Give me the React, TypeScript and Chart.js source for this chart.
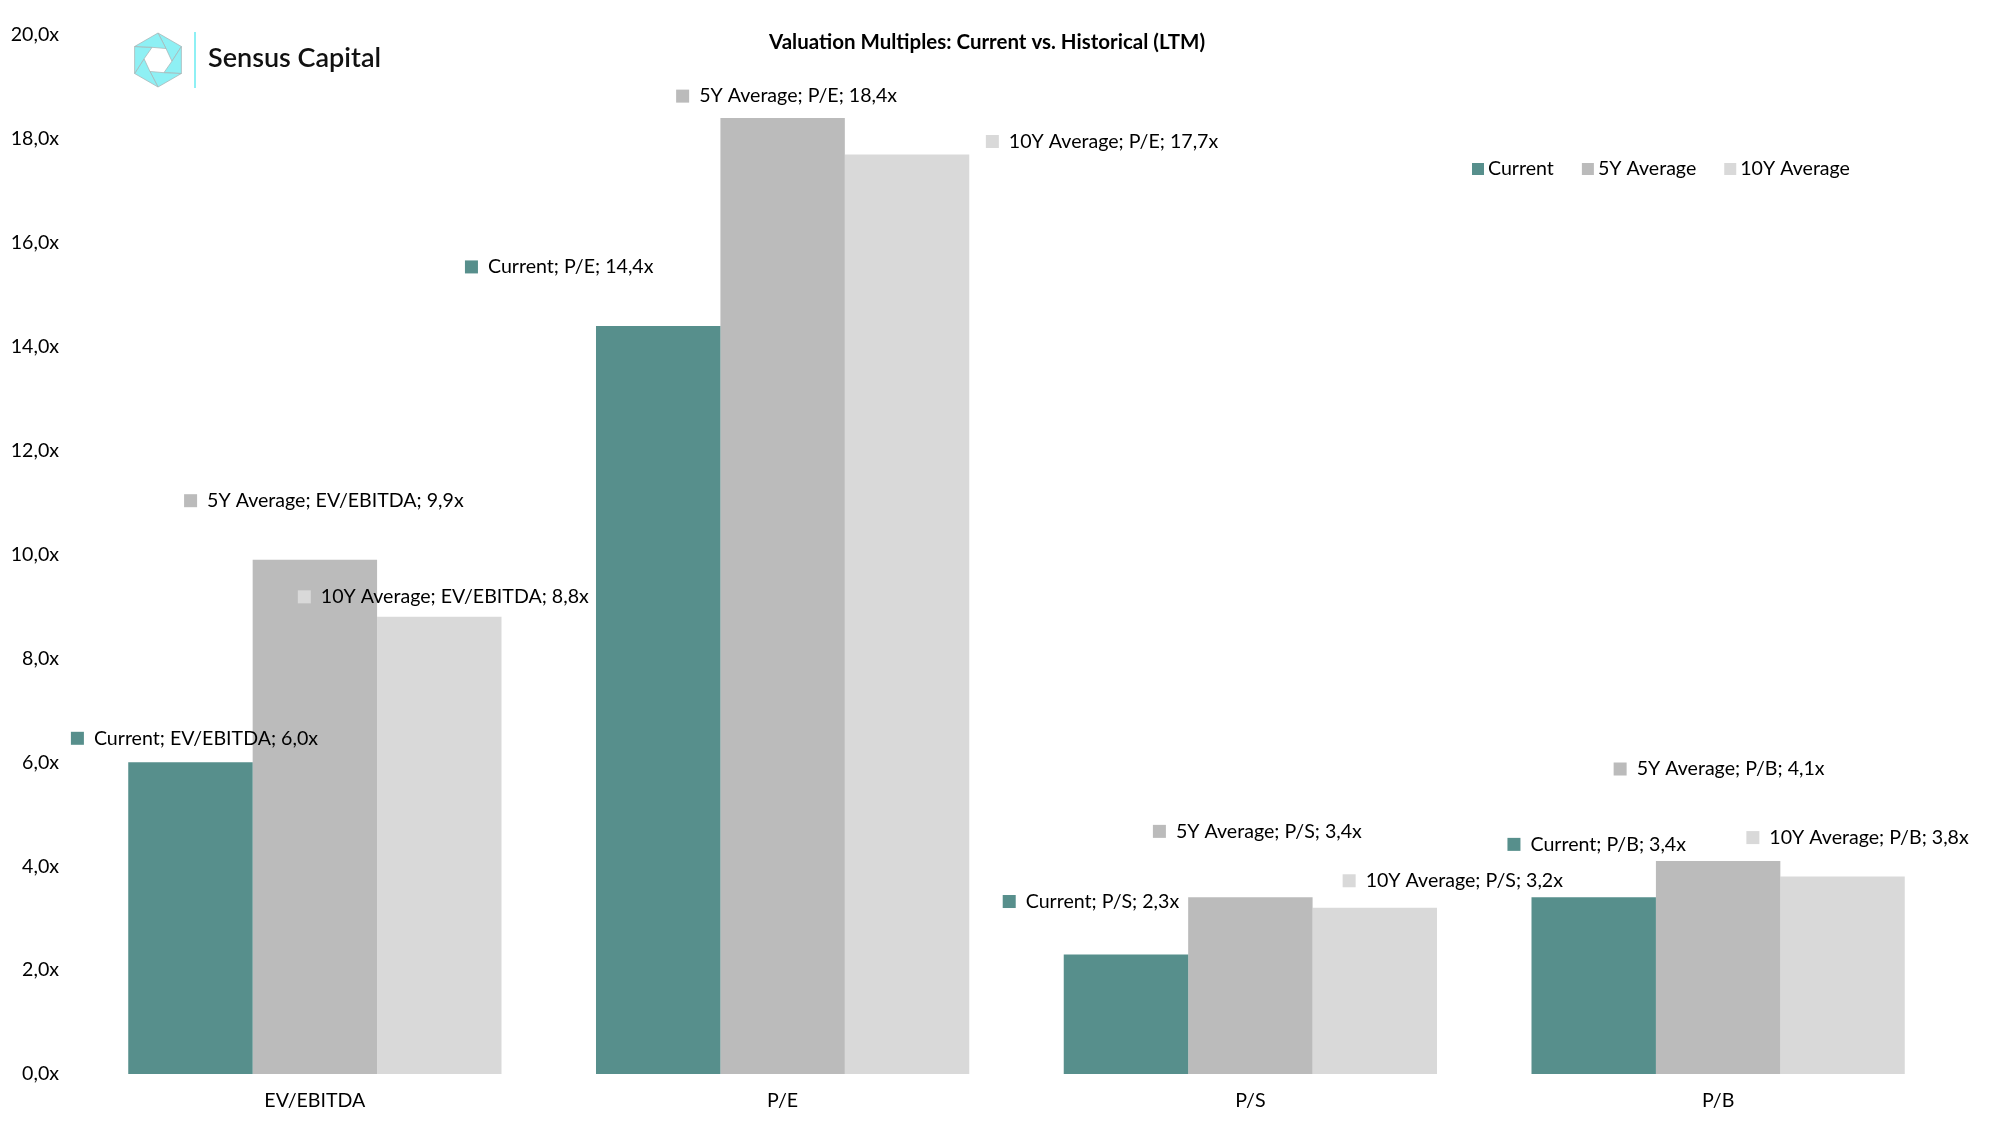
import { useEffect, useRef } from "react";
import { Chart, registerables } from "chart.js";

Chart.register(...registerables);

const categories = ["EV/EBITDA", "P/E", "P/S", "P/B"];
const seriesNames = ["Current", "5Y Average", "10Y Average"];
const currentValues = [6.0, 14.4, 2.3, 3.4];
const fiveYearValues = [9.9, 18.4, 3.4, 4.1];
const tenYearValues = [8.8, 17.7, 3.2, 3.8];
const yMin = 0;
const yMax = 20;
const yStep = 2;

const seriesColors = ["#578F8C", "#BBBBBB", "#D9D9D9"];

// hand-placed data label offsets (dx, dy in px from bar top centre), per series
const labelOffsets = [
  [[4, 24], [-99, 59], [-35, 53], [3, 53]],
  [[9, 59], [4, 22], [7, 66], [1, 92]],
  [[4, 20], [195, 13], [78, 27], [15, 39]],
];

const FONT = "Lato";
const FS = 19.6;
const fmt = (v: number) => v.toFixed(1).replace(".", ",") + "x";

function drawLogo(ctx: CanvasRenderingContext2D) {
  const cx = 158;
  const cy = 60;
  const R = 27;
  const r = 14;
  ctx.save();
  ctx.fillStyle = "#8EF0F4";
  ctx.strokeStyle = "#A9B7B9";
  ctx.lineWidth = 0.8;
  for (let k = 0; k < 6; k++) {
    const a0 = ((-90 + 60 * k) * Math.PI) / 180;
    const a1 = ((-90 + 60 * (k + 1)) * Math.PI) / 180;
    const b0 = a0 + (35 * Math.PI) / 180;
    const b1 = a1 + (35 * Math.PI) / 180;
    ctx.beginPath();
    ctx.moveTo(cx + R * Math.cos(a0), cy + R * Math.sin(a0));
    ctx.lineTo(cx + R * Math.cos(a1), cy + R * Math.sin(a1));
    ctx.lineTo(cx + r * Math.cos(b1), cy + r * Math.sin(b1));
    ctx.lineTo(cx + r * Math.cos(b0), cy + r * Math.sin(b0));
    ctx.closePath();
    ctx.fill();
    ctx.stroke();
  }
  ctx.fillStyle = "#8EF0F4";
  ctx.fillRect(194, 32, 2, 56);
  ctx.fillStyle = "#111";
  ctx.font = `600 27px ${FONT}`;
  ctx.textAlign = "left";
  ctx.textBaseline = "middle";
  ctx.fillText("Sensus Capital", 208, 58);
  ctx.restore();
}

const overlayPlugin = {
  id: "overlay",
  afterDatasetsDraw(chart: any) {
    const ctx: CanvasRenderingContext2D = chart.ctx;
    ctx.save();
    ctx.textBaseline = "middle";
    ctx.textAlign = "left";

    // data labels with legend keys
    ctx.font = `${FS}px ${FONT}`;
    const SQ = 13;
    const GAP = 10;
    chart.data.datasets.forEach((ds: any, i: number) => {
      const meta = chart.getDatasetMeta(i);
      meta.data.forEach((bar: any, j: number) => {
        const text = `${ds.label}; ${categories[j]}; ${fmt(ds.data[j])}`;
        const [dx, dy] = labelOffsets[i][j];
        const tw = ctx.measureText(text).width;
        const total = SQ + GAP + tw;
        const left = bar.x + dx - total / 2;
        const y = bar.y - dy;
        ctx.fillStyle = ds.backgroundColor;
        ctx.fillRect(left, y - SQ / 2, SQ, SQ);
        ctx.fillStyle = "#000";
        ctx.fillText(text, left + SQ + GAP, y);
      });
    });

    // legend
    let lx = 1472;
    const ly = 169;
    chart.data.datasets.forEach((ds: any) => {
      ctx.fillStyle = ds.backgroundColor;
      ctx.fillRect(lx, ly - 6, 12, 12);
      ctx.fillStyle = "#000";
      ctx.fillText(ds.label, lx + 16, ly);
      lx += 16 + ctx.measureText(ds.label).width + 28;
    });

    // title
    ctx.font = `bold 20.5px ${FONT}`;
    ctx.textAlign = "center";
    ctx.fillText("Valuation Multiples: Current vs. Historical (LTM)", 987, 42);
    ctx.restore();

    drawLogo(ctx);
  },
};

export default function App() {
  const chartRef = useRef<HTMLCanvasElement | null>(null);

  useEffect(() => {
    document.body.style.margin = "0";
    if (!chartRef.current) return;

    const seriesValues = [currentValues, fiveYearValues, tenYearValues];

    const chart = new Chart(chartRef.current, {
      type: "bar",
      data: {
        labels: categories,
        datasets: seriesNames.map((name, i) => ({
          label: name,
          data: seriesValues[i],
          backgroundColor: seriesColors[i],
          borderWidth: 0,
          barPercentage: 1,
          categoryPercentage: 0.798,
        })),
      },
      options: {
        animation: false,
        responsive: true,
        maintainAspectRatio: false,
        layout: { padding: { top: 35, right: 42, left: 0, bottom: 0 } },
        plugins: {
          legend: { display: false },
          tooltip: { enabled: false },
        },
        scales: {
          x: {
            grid: { display: false, drawTicks: false },
            border: { display: false },
            ticks: {
              color: "#000",
              font: { family: FONT, size: FS },
              padding: 15,
            },
            afterFit: (s: any) => {
              s.height = 52;
            },
          },
          y: {
            min: yMin,
            max: yMax,
            grid: { display: false, drawTicks: false },
            border: { display: false },
            ticks: {
              stepSize: yStep,
              color: "#000",
              font: { family: FONT, size: FS },
              padding: 22,
              callback: (v: any) => fmt(Number(v)),
            },
            afterFit: (s: any) => {
              s.width = 81;
            },
          },
        },
      },
      plugins: [overlayPlugin],
    });

    return () => {
      chart.destroy();
    };
  }, []);

  return (
    <div style={{ position: "relative", width: 1994, height: 1126, background: "#fff" }}>
      <canvas ref={chartRef} />
    </div>
  );
}
